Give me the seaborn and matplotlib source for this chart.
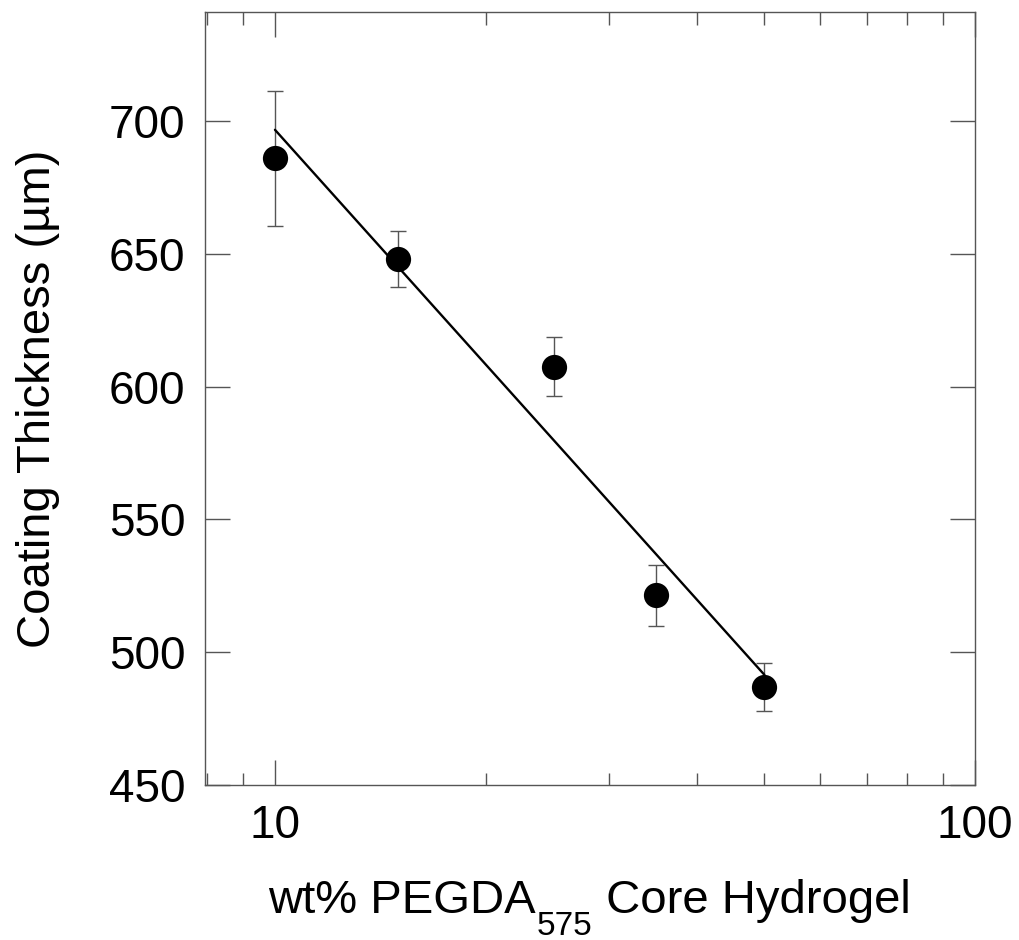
import numpy as np
import matplotlib
matplotlib.use("Agg")
import matplotlib.pyplot as plt
import seaborn as sns
from matplotlib.ticker import LogLocator, NullFormatter, FixedLocator, FixedFormatter

# data
wt_pct = [10, 15, 25, 35, 50]
thickness = [686, 648, 607.5, 521.5, 487]
thickness_err = [25.5, 10.5, 11, 11.5, 9]

sns.set_theme(style="ticks")
plt.rcParams["font.family"] = ["Liberation Sans", "DejaVu Sans"]
plt.rcParams["text.color"] = "black"
plt.rcParams["axes.labelcolor"] = "black"

fig = plt.figure(figsize=(10.19, 9.4), dpi=100)
ax = fig.add_axes([0.201, 0.165, 0.756, 0.822])

# error bars
ax.errorbar(wt_pct, thickness, yerr=thickness_err, fmt="none",
            ecolor="#555555", elinewidth=1.0, capsize=6, capthick=1.0, zorder=2)

# linear fit against log10(wt%)
slope, intercept = np.polyfit(np.log10(wt_pct), thickness, 1)
xfit = np.array([min(wt_pct), max(wt_pct)])
sns.lineplot(x=xfit, y=slope * np.log10(xfit) + intercept, ax=ax,
             color="black", linewidth=1.7, zorder=3)

sns.scatterplot(x=wt_pct, y=thickness, ax=ax, s=330, color="black",
                edgecolor="black", linewidth=0, zorder=4)

ax.set_xscale("log")
ax.set_xlim(7.94, 100)
ax.set_ylim(450, 741)
ax.xaxis.set_major_locator(FixedLocator([10, 100]))
ax.xaxis.set_major_formatter(FixedFormatter(["10", "100"]))
ax.xaxis.set_minor_locator(LogLocator(base=10, subs=np.arange(2, 10)))
ax.xaxis.set_minor_formatter(NullFormatter())
ax.set_yticks([450, 500, 550, 600, 650, 700])

for side in ["left", "right", "top", "bottom"]:
    ax.spines[side].set_color("#555555")
    ax.spines[side].set_linewidth(1.0)

ax.tick_params(which="both", direction="in", top=True, right=True,
               color="#555555", width=1.0, labelcolor="black")
ax.tick_params(which="major", length=18, labelsize=33, pad=14)
ax.tick_params(which="minor", length=9)

ax.set_ylabel("Coating Thickness (µm)", fontsize=34, labelpad=35)

# x label with a deep subscript, built from three chained pieces
t1 = fig.text(0.263, 0.0287, "wt% PEGDA", fontsize=34, va="baseline", ha="left")
t2 = ax.annotate("575", xy=(1, 0), xycoords=t1, xytext=(1, 9),
                 textcoords="offset points", fontsize=24, va="top", ha="left")
t3 = ax.annotate(" Core Hydrogel", xy=(1, 0), xycoords=(t2, t1),
                 fontsize=34, va="bottom", ha="left")

fig.savefig("out.png", dpi=100)
